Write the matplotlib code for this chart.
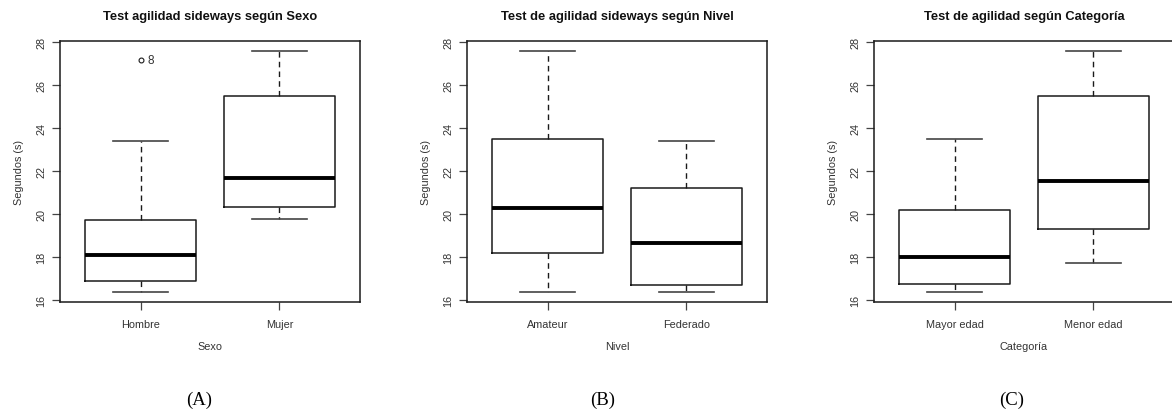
import matplotlib
matplotlib.use("Agg")
import matplotlib.pyplot as plt

plt.rcParams['font.family'] = ['Liberation Sans', 'DejaVu Sans']

# five-number summaries per group: whisker low, Q1, median, Q3, whisker high
titles = ["Test agilidad sideways según Sexo",
          "Test de agilidad sideways según Nivel",
          "Test de agilidad según Categoría"]
xlabels = ["Sexo", "Nivel", "Categoría"]
panel_tags = ["(A)", "(B)", "(C)"]

sexo_groups = ["Hombre", "Mujer"]
sexo_low = [16.37, 19.80]
sexo_q1 = [16.90, 20.35]
sexo_med = [18.12, 21.68]
sexo_q3 = [19.73, 25.49]
sexo_high = [23.39, 27.60]
sexo_outliers = [[27.19], []]
sexo_outlier_ids = [["8"], []]

nivel_groups = ["Amateur", "Federado"]
nivel_low = [16.37, 16.40]
nivel_q1 = [18.19, 16.73]
nivel_med = [20.30, 18.64]
nivel_q3 = [23.50, 21.20]
nivel_high = [27.60, 23.39]

cat_groups = ["Mayor edad", "Menor edad"]
cat_low = [16.37, 17.75]
cat_q1 = [16.74, 19.33]
cat_med = [17.99, 21.53]
cat_q3 = [20.21, 25.49]
cat_high = [23.50, 27.60]

yticks = [16, 18, 20, 22, 24, 26, 28]


def make_stats(groups, low, q1, med, q3, high, fliers=None):
    stats = []
    for i, g in enumerate(groups):
        stats.append(dict(label=g, whislo=low[i], q1=q1[i], med=med[i],
                          q3=q3[i], whishi=high[i],
                          fliers=fliers[i] if fliers else []))
    return stats


panels = [
    make_stats(sexo_groups, sexo_low, sexo_q1, sexo_med, sexo_q3, sexo_high, sexo_outliers),
    make_stats(nivel_groups, nivel_low, nivel_q1, nivel_med, nivel_q3, nivel_high),
    make_stats(cat_groups, cat_low, cat_q1, cat_med, cat_q3, cat_high),
]

W, H = 1172, 414
fig = plt.figure(figsize=(W / 100, H / 100), dpi=100)
lefts = [60, 467, 874]
tag_x = [199, 603, 1012]
ink = '#1a1a1a'
txt = '#333333'

for k, stats in enumerate(panels):
    ax = fig.add_axes([lefts[k] / W, (H - 303) / H, 300 / W, 261 / H])
    ax.bxp(stats, positions=[1, 2], widths=0.8, capwidths=0.4,
           boxprops=dict(color=ink, lw=1.1),
           medianprops=dict(color='black', lw=2.8, solid_capstyle='butt'),
           whiskerprops=dict(color=ink, lw=1.0, linestyle=(0, (4, 3))),
           capprops=dict(color='#444444', lw=1.2),
           flierprops=dict(marker='o', markersize=3.5, markerfacecolor='none',
                           markeredgecolor=ink, markeredgewidth=0.8))
    ax.set_xlim(0.42, 2.58)
    ax.set_ylim(15.92, 28.05)
    ax.set_yticks(yticks)
    ax.set_yticklabels([str(v) for v in yticks], rotation=90, va='center',
                       fontsize=7.8, color=txt)
    ax.set_xticks([1, 2])
    ax.set_xticklabels([s['label'] for s in stats], fontsize=7.8, color=txt)
    ax.tick_params(axis='both', length=6, width=0.9, color='#444444', pad=4)
    ax.tick_params(axis='x', pad=6)
    for sp in ax.spines.values():
        sp.set_color(ink)
        sp.set_linewidth(1.1)
    ax.set_title(titles[k], fontsize=9.3, fontweight='bold', pad=16, color='#111111')
    ax.set_xlabel(xlabels[k], fontsize=7.8, color=txt, labelpad=9)
    ax.set_ylabel("Segundos (s)", fontsize=7.8, color=txt, labelpad=9)

    if k == 0:
        for i, s in enumerate(stats):
            for v, lab in zip(s['fliers'], sexo_outlier_ids[i]):
                ax.text(i + 1 + 0.05, v, lab, fontsize=8.5, color=txt,
                        va='center', ha='left')

    fig.text(tag_x[k] / W, 1 - 400 / H, panel_tags[k],
             fontsize=13.5, family='Liberation Serif', ha='center', va='center')

fig.savefig("out.png", dpi=100)
